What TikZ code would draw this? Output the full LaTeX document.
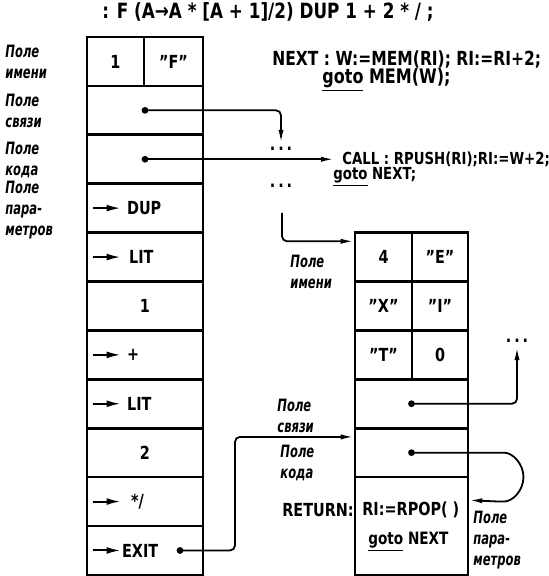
\documentclass[tikz,border=0pt]{standalone}
\usepackage{fontspec}
\setmainfont{DejaVu Sans}[FakeStretch=0.8]
\newfontfamily\lblfont{DejaVu Sans}[FakeStretch=0.68]
\usetikzlibrary{arrows.meta}

\begin{document}
\begin{tikzpicture}[x=0.5pt, y=-0.5pt, >={Latex[length=6.5pt,width=2.6pt]},
    font=\bfseries\fontsize{9}{10}\selectfont,
    cell/.style={draw, line width=1.3pt, minimum height=24.45pt, inner sep=0pt},
    conn/.style={line width=0.9pt, rounded corners=2.5pt},
    lbl/.style={font=\lblfont\bfseries\itshape\fontsize{8.5}{10.3}\selectfont, align=left, anchor=west, inner sep=0pt},
    txt/.style={anchor=west, inner sep=0pt},
    etc/.style={inner sep=2pt}]
\useasboundingbox (0,0) rectangle (548,576);

    % Определение слова
    \node[font=\bfseries\fontsize{10.5}{12}\selectfont] (title) at (268,12) {: F (A→A * [A + 1]/2) DUP 1 + 2 * / ;};

    % Левое слово F
    \node[cell, minimum width=28.5pt] (nmLen) at (115.5,61.45) {1};
    \node[cell, minimum width=29.5pt] (nmF) at (173.5,61.45) {"F"};
    \node[cell, minimum width=58pt] (lnk) at (145,110.35) {};
    \node[cell, minimum width=58pt] (cod) at (145,159.25) {};
    \node[cell, minimum width=58pt] (pDup) at (145,208.15) {};
    \node[cell, minimum width=58pt] (pLit) at (145,257.05) {};
    \node[cell, minimum width=58pt] (pOne) at (145,305.95) {1};
    \node[cell, minimum width=58pt] (pPlus) at (145,354.85) {};
    \node[cell, minimum width=58pt] (pLitB) at (145,403.75) {};
    \node[cell, minimum width=58pt] (pTwo) at (145,452.65) {2};
    \node[cell, minimum width=58pt] (pMul) at (145,501.55) {};
    \node[cell, minimum width=58pt] (pExit) at (145,550.45) {};

    % Ссылки в поле параметров
    \foreach \c/\t/\s in {pDup/DUP/20.5pt, pLit/LIT/21.5pt, pPlus/+/20.5pt,
        pLitB/LIT/20.5pt, pMul/{*/}/22.5pt, pExit/EXIT/18pt} {
        \draw[->, line width=1pt, >={Latex[length=7pt,width=3.4pt]}]
            ([xshift=3.5pt]\c.west) -- ++(28,0);
        \node[txt] at ([xshift=\s]\c.west) {\t};
    }

    % Метки полей слева
    \node[lbl] (lName) at (5,62) {Поле\\имени};
    \node[lbl] (lLink) at (5,111) {Поле\\связи};
    \node[lbl] (lCode) at (5,160) {Поле\\кода};
    \node[lbl] (lPar) at (5,210) {Поле\\пара-\\метров};

    % Адресный интерпретатор
    \node[txt, font=\bfseries\fontsize{9.7}{11}\selectfont] (next) at (272,60) {NEXT : W:=MEM(RI); RI:=RI+2;};
    \node[txt, font=\bfseries\fontsize{10}{11}\selectfont] (nextB) at (322,80) {\underline{goto} MEM(W);};
    \node[txt, font=\bfseries\fontsize{8.3}{10}\selectfont] (call) at (342,159.25) {CALL : RPUSH(RI);RI:=W+2;};
    \node[txt, font=\bfseries\fontsize{8.3}{10}\selectfont] (callB) at (333,177) {\underline{goto} NEXT;};
    \node[etc] (dA) at (281,149) {.\,.\,.};
    \node[etc] (dB) at (281,186) {.\,.\,.};
    \coordinate (dBs) at (282,213);

    % Слово EXIT
    \node[cell, minimum width=28.5pt] (rLen) at (383.5,257.05) {4};
    \node[cell, minimum width=28pt] (rE) at (440,257.05) {"E"};
    \node[cell, minimum width=28.5pt] (rX) at (383.5,305.95) {"X"};
    \node[cell, minimum width=28pt] (rI) at (440,305.95) {"I"};
    \node[cell, minimum width=28.5pt] (rT) at (383.5,354.85) {"T"};
    \node[cell, minimum width=28pt] (rZero) at (440,354.85) {0};
    \node[cell, minimum width=56.5pt] (rLnk) at (411.5,403.75) {};
    \node[cell, minimum width=56.5pt] (rCod) at (411.5,452.65) {};
    \node[cell, minimum width=56.5pt, minimum height=48.9pt] (rPar) at (411.5,526) {};
    \node[txt] (ret) at (282,510) {RETURN:};
    \node[txt] (rpop) at (362,510) {RI:=RPOP( )};
    \node[txt, font=\bfseries\fontsize{8.5}{10}\selectfont] (retB) at (368,542) {\underline{goto} NEXT};
    \node[etc] (dC) at (517,341) {.\,.\,.};

    % Метки полей справа
    \node[lbl] (rName) at (290,272) {Поле\\имени};
    \node[lbl] (rLink) at (277,416) {Поле\\связи};
    \node[lbl] (rCode) at (280,463) {Поле\\кода};
    \node[lbl] (rParL) at (473,540) {Поле\\пара-\\метров};

    % Связи
    \coordinate (eDot) at ([xshift=17.5pt]pExit.center);
    \foreach \d in {lnk.center, cod.center, rLnk.center, rCod.center, eDot}
        \fill (\d) circle (1.7pt);
    \draw[conn,->] (lnk.center) -| (dA.north);
    \draw[conn,->] (cod.center) -- ([xshift=-4pt]call.west);
    \draw[conn,->] (dBs) |- ([yshift=-5pt]rLen.north west);
    \draw[conn,->] (rLnk.center) -| (dC.south);
    \draw[conn,->] (rCod.center) -- ++(87.5,0)
        arc[start angle=-90, end angle=90, radius=24.45]
        -- ([yshift=-12.2pt]rPar.north east);
    \draw[conn,->] (eDot) -- ++(55,0) |- ([yshift=-5pt]rCod.north west);

\end{tikzpicture}
\end{document}
